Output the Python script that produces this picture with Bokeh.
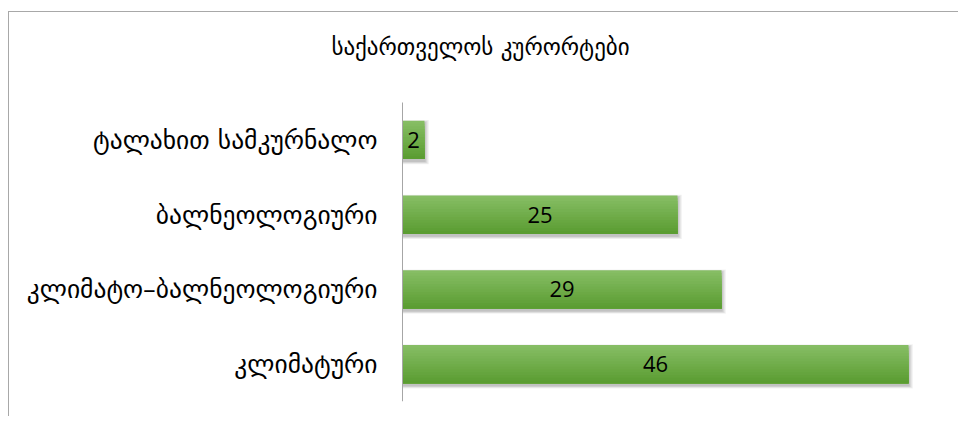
from bokeh.plotting import figure
from bokeh.models import ColumnDataSource, Range1d, Label, FixedTicker
from bokeh.transform import dodge
from bokeh.core.properties import value
from bokeh.embed import file_html
from bokeh.resources import INLINE

# ---- data ----
title_text = "საქართველოს კურორტები"
categories = ["კლიმატური", "კლიმატო–ბალნეოლოგიური", "ბალნეოლოგიური", "ტალახით სამკურნალო"]
counts = [46, 29, 25, 2]
count_labels = [str(v) for v in counts]

# ---- style / layout ----
GEORGIAN_FONT = "DejaVu Sans"
NUM_FONT = "Open Sans"
bar_h = 0.515
top_col = (0x86, 0xbd, 0x64)
bot_col = (0x5b, 0x9d, 0x32)
N = 14
CAT_PX = 299      # pixel height of the category area
FRAME_PX = 389    # frame height (category area + room for title above it)
W, H = 950, 405
BORDER_R = 7
X_END = 50
PX_PER_UNIT = 11

n = len(categories)
pos = [i + 0.5 for i in range(n)]

src = ColumnDataSource(dict(
    pos=pos,
    val=counts,
    mid=[v / 2 for v in counts],
    lab=count_labels,
))

p = figure(
    y_range=Range1d(0, n * FRAME_PX / CAT_PX),
    x_range=Range1d(X_END - (W - BORDER_R) / PX_PER_UNIT, X_END),
    width=W, height=H, title_location=None,
    output_backend="svg", toolbar_location=None,
    min_border_left=0, min_border_top=0, min_border_bottom=16, min_border_right=BORDER_R,
)
p.styles = {"margin-top": "11px", "margin-left": "8px",
            "border-top": "1px solid #a8a8a8", "border-left": "1px solid #a8a8a8"}

# shadow (soft, offset down-right)
for k, a in [(4, 0.05), (3, 0.06), (2, 0.07), (1, 0.08)]:
    shadow_src = ColumnDataSource(dict(pos=pos, right=[v + 0.1 * k for v in counts]))
    p.hbar(y=dodge("pos", -0.03), left=0, right="right",
           height=bar_h + 0.02 * k, source=shadow_src, fill_color="black",
           fill_alpha=a, line_color=None)

# gradient bars (stacked slices, each covering to the bar bottom)
h = bar_h / N
for i in range(N):
    t = i / (N - 1)
    c = tuple(int(round(top_col[j] + (bot_col[j] - top_col[j]) * t)) for j in range(3))
    col = "#%02x%02x%02x" % c
    top = bar_h / 2 - i * h
    bottom = -bar_h / 2
    p.hbar(y=dodge("pos", (top + bottom) / 2), left=0, right="val",
           height=top - bottom, source=src, fill_color=col, line_color=None)

p.text(x="mid", y="pos", text="lab", source=src, text_align="center",
       text_baseline="middle", text_font=value(NUM_FONT), text_font_size="22px",
       text_color="black")

# chart title (screen units: from frame left, up from frame bottom)
title = Label(x=471, y=355, x_units="screen", y_units="screen",
              text=title_text, text_align="center", text_baseline="middle",
              text_font=GEORGIAN_FONT, text_font_size="23px", text_color="black")
p.add_layout(title)

p.xaxis.visible = False
p.yaxis.fixed_location = 0
p.yaxis.ticker = FixedTicker(ticks=pos)
p.yaxis.major_label_overrides = {pv: c for pv, c in zip(pos, categories)}
p.yaxis.bounds = (0, n)
p.yaxis.axis_line_color = "#a6a6a6"
p.yaxis.major_tick_line_color = None
p.yaxis.minor_tick_line_color = None
p.yaxis.major_label_standoff = 19
p.yaxis.major_label_text_font = GEORGIAN_FONT
p.yaxis.major_label_text_font_size = "25.5px"
p.yaxis.major_label_text_color = "black"
p.xgrid.visible = False
p.ygrid.visible = False
p.outline_line_color = None

open("out.html", "w").write(file_html(p, INLINE))
